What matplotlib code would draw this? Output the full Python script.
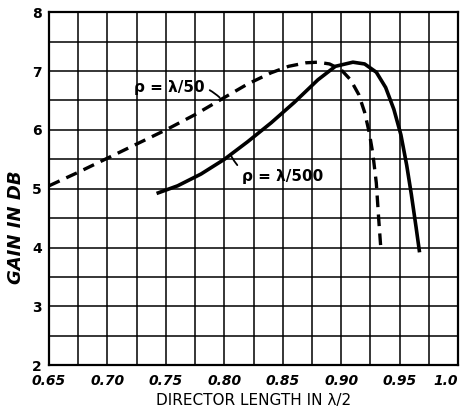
import numpy as np
import matplotlib.pyplot as plt
from matplotlib.ticker import MultipleLocator

# director length (in half wavelengths) vs gain
x_rho50 = [0.65, 0.675, 0.70, 0.725, 0.75, 0.775, 0.80, 0.82, 0.84, 0.855, 0.87,
           0.88, 0.89, 0.90, 0.908, 0.915, 0.920, 0.924, 0.927, 0.930, 0.932, 0.934]
g_rho50 = [5.05, 5.28, 5.52, 5.76, 6.0, 6.26, 6.55, 6.78, 6.97, 7.08, 7.14,
           7.15, 7.12, 7.02, 6.85, 6.6, 6.3, 5.95, 5.6, 5.1, 4.5, 3.95]

x_rho500 = [0.742, 0.76, 0.78, 0.80, 0.82, 0.84, 0.86, 0.88, 0.895, 0.91, 0.92,
            0.93, 0.938, 0.945, 0.951, 0.956, 0.960, 0.964, 0.967]
g_rho500 = [4.92, 5.05, 5.25, 5.5, 5.8, 6.12, 6.47, 6.85, 7.08, 7.15, 7.12,
            6.98, 6.72, 6.35, 5.92, 5.4, 4.9, 4.35, 3.92]

xticks = [0.65, 0.70, 0.75, 0.80, 0.85, 0.90, 0.95, 1.0]
xticklabels = ['0.65', '0.70', '0.75', '0.80', '0.85', '0.90', '0.95', '1.0']
yticks = [2, 3, 4, 5, 6, 7, 8]

fig = plt.figure(figsize=(4.67, 4.19), dpi=100)
ax = fig.add_axes([0.105, 0.128, 0.876, 0.843])

ax.set_xlim(0.65, 1.0)
ax.set_ylim(2, 8)
ax.set_xticks(xticks)
ax.set_xticklabels(xticklabels)
ax.set_yticks(yticks)
ax.xaxis.set_minor_locator(MultipleLocator(0.025))
ax.yaxis.set_minor_locator(MultipleLocator(0.5))
ax.grid(which='both', color='black', linewidth=1.1)
ax.set_axisbelow(True)
ax.tick_params(which='both', length=0)
ax.tick_params(axis='x', pad=6)
ax.tick_params(axis='y', pad=5)
for lab in ax.get_xticklabels() + ax.get_yticklabels():
    lab.set_fontweight('bold')
    lab.set_fontsize(10)
for lab in ax.get_xticklabels():
    lab.set_fontstyle('italic')
ax.get_xticklabels()[-1].set_horizontalalignment('right')
for sp in ax.spines.values():
    sp.set_linewidth(1.6)

ax.plot(x_rho50, g_rho50, color='black', linewidth=2.4,
        linestyle=(0, (3.5, 2.2)), solid_joinstyle='round')
ax.plot(x_rho500, g_rho500, color='black', linewidth=2.6,
        solid_joinstyle='round', solid_capstyle='butt')

ax.annotate('ρ = λ/50', xy=(0.796, 6.55), xytext=(0.783, 6.72),
            fontsize=11, fontweight='bold', ha='right', va='center',
            arrowprops=dict(arrowstyle='-', color='black', lw=1.3,
                            connectionstyle='arc3,rad=-0.3',
                            shrinkA=2, shrinkB=0))
ax.annotate('ρ = λ/500', xy=(0.806, 5.55), xytext=(0.815, 5.2),
            fontsize=11, fontweight='bold', ha='left', va='center',
            arrowprops=dict(arrowstyle='-', color='black', lw=1.3,
                            connectionstyle='arc3,rad=-0.4',
                            shrinkA=2, shrinkB=0))

ax.set_xlabel('DIRECTOR LENGTH IN λ/2', fontsize=11, labelpad=4)
ax.set_ylabel('GAIN IN DB', fontsize=13, fontweight='bold',
              fontstyle='italic')
ax.yaxis.set_label_coords(-0.058, 0.39)

fig.savefig('out.png', dpi=100)
